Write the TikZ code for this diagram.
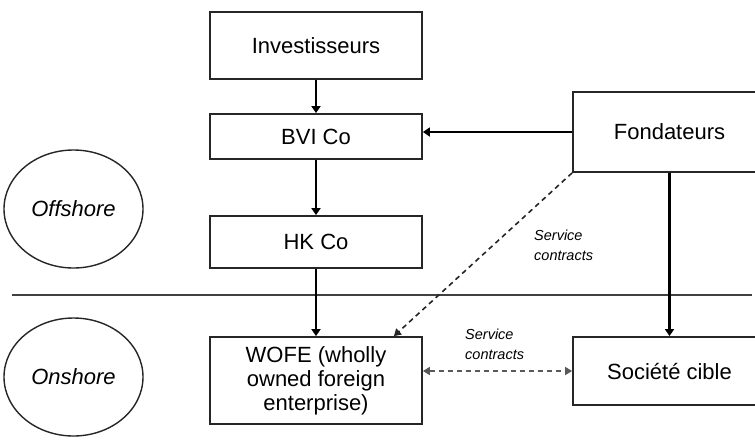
\documentclass[tikz,border=0pt]{standalone}
\usepackage{fontspec}
\setmainfont{Liberation Sans}
\usetikzlibrary{arrows.meta,shapes.geometric,calc}
\begin{document}
\begin{tikzpicture}[x=1pt,y=-1pt,
  box/.style={draw=black!85,line width=1.8pt,rectangle,inner sep=0pt,align=center,
    font=\fontsize{22}{24}\selectfont},
  zone/.style={draw=black!85,line width=1.4pt,ellipse,minimum width=139pt,minimum height=118pt,
    inner sep=0pt,font=\fontsize{22}{24}\selectfont\itshape},
  arr/.style={line width=2.5pt,-{Triangle[length=7pt,width=9pt]}},
  dasharr/.style={line width=1.6pt,dash pattern=on 5pt off 4pt},
  lbl/.style={font=\fontsize{14.5}{20}\selectfont\itshape,align=left,inner sep=0pt,anchor=west}]
\useasboundingbox (0,0) rectangle (755,440);
\clip (0,0) rectangle (755,440);
\fill[white] (0,0) rectangle (755,440);
% nodes
\node[box,minimum width=212pt,minimum height=67pt] (inv) at (316,45.5) {Investisseurs};
\node[box,minimum width=212pt,minimum height=45pt] (bvi) at (316,136.5) {BVI Co};
\node[box,minimum width=212pt,minimum height=52pt] (hk) at (316,242) {HK Co};
\node[box,minimum width=212pt,minimum height=87pt] (wofe) at (316,380.5) {WOFE (wholly\\owned foreign\\enterprise)};
\node[box,minimum width=193pt,minimum height=80pt] (fond) at (669.5,132) {Fondateurs};
\node[box,minimum width=193pt,minimum height=68pt] (soc) at (669.5,371) {Société cible};
\node[zone] (off) at (73.5,209) {Offshore};
\node[zone] (on) at (73.5,377) {Onshore};
% divider
\coordinate (dl) at (12,295);
\coordinate (dr) at (752,295);
\draw[line width=1.8pt,black!75] (dl) -- (dr);
% arrows
\draw[arr] (inv) -- (bvi);
\draw[arr] (bvi) -- (hk);
\draw[arr] (hk) -- (wofe);
\draw[arr] (fond.west) -- (fond.west -| bvi.east);
\draw[arr] (fond.south -| soc.north) -- (soc.north);
\coordinate (wofetop) at ($(wofe.north east)+(-29,0)$);
\draw[dasharr,black!85,-{Triangle[length=7pt,width=8pt]}] (fond.south west) -- (wofetop);
\coordinate (wofe-r) at (wofe.east |- soc.west);
\draw[dasharr,black!65,{Triangle[length=7pt,width=8pt]}-{Triangle[length=7pt,width=8pt]}] (wofe-r) -- (soc.west);
% labels
\node[lbl] (sc1) at (534,245) {Service\\contracts};
\node[lbl] (sc2) at (465,344) {Service\\contracts};
\end{tikzpicture}
\end{document}
